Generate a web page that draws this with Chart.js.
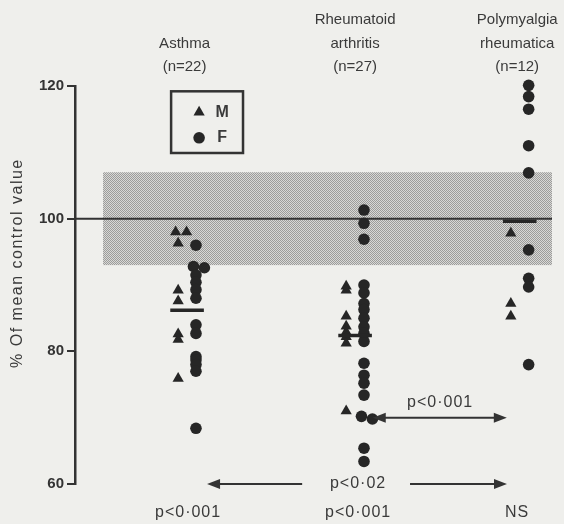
<!DOCTYPE html>
<html>
<head>
<meta charset="utf-8">
<script src="https://cdn.jsdelivr.net/npm/chart.js@4.4.0/dist/chart.umd.min.js"></script>
<style>
  html, body { margin: 0; padding: 0; background: #efefec; }
  canvas { display: block; }
</style>
</head>
<body>
<canvas id="c" width="564" height="524"></canvas>
<script>
// groups
const headerLines = [['Asthma', '(n=22)'], ['Rheumatoid', 'arthritis', '(n=27)'], ['Polymyalgia', 'rheumatica', '(n=12)']];
const groupPos = [1, 2, 2.98];

// % of mean control value, M = triangles, F = circles
const maleValues = [
  [98.0, 98.0, 96.3, 89.2, 87.6, 82.6, 81.8, 75.9],
  [89.8, 89.2, 85.3, 83.8, 82.9, 82.2, 81.2, 71.0],
  [97.8, 87.2, 85.3]
];
const femaleValues = [
  [96.0, 92.8, 92.6, 91.5, 90.4, 89.3, 88.0, 84.0, 82.7, 79.2, 78.7, 78.0, 77.0, 68.4],
  [101.3, 99.3, 96.9, 90.0, 88.8, 87.2, 86.3, 85.0, 83.7, 82.7, 81.5, 78.2, 76.4, 75.2, 73.4, 70.2, 69.8, 65.4, 63.4],
  [120.1, 118.4, 116.5, 111.0, 106.9, 95.3, 91.0, 89.7, 78.0]
];
const groupMeans = [86.2, 82.4, 99.6];
const normalRange = [93, 107];
const refValue = 100;
const yRange = [60, 120];

// comparisons
const bottomLabels = ['p<0·001', 'p<0·001', 'NS'];
const raVsPmr = 'p<0·001';
const asthmaVsRa = 'p<0·02';

const ink = '#262626';
const textCol = '#3a3a3a';
const sideOff = 0.053;

// spread near-identical values a little sideways
function column(values, center) {
  const pts = values.map(v => ({ x: center, y: v }));
  for (let i = 1; i < pts.length; i++) {
    if (Math.abs(pts[i].y - pts[i - 1].y) < 0.45 && pts[i - 1].x === center) {
      pts[i - 1].x = center - 0.015;
      pts[i].x = center + 0.05;
    }
  }
  return pts;
}

const datasets = [];
// reference line at 100
datasets.push({
  type: 'line', data: [{ x: 0.333, y: refValue }, { x: 3.172, y: refValue }],
  borderColor: '#333', borderWidth: 2, pointRadius: 0, order: 5
});
groupPos.forEach((gx, i) => {
  datasets.push({
    data: column(maleValues[i], gx - sideOff), pointStyle: 'triangle', pointRadius: 6.5,
    backgroundColor: ink, borderColor: ink, borderWidth: 0, clip: false, order: 2
  });
  datasets.push({
    data: column(femaleValues[i], gx + sideOff), pointStyle: 'circle', pointRadius: 5.8,
    backgroundColor: ink, borderColor: ink, borderWidth: 0, clip: false, order: 2
  });
  datasets.push({
    type: 'line', data: [{ x: gx - 0.1, y: groupMeans[i] }, { x: gx + 0.1, y: groupMeans[i] }],
    borderColor: ink, borderWidth: 3.5, pointRadius: 0, order: 1
  });
});

// stipple pattern for the normal range
function stipple(ctx) {
  const p = document.createElement('canvas');
  p.width = 2; p.height = 2;
  const g = p.getContext('2d');
  g.fillStyle = '#d8d8d6'; g.fillRect(0, 0, 2, 2);
  g.fillStyle = '#9c9c9a'; g.fillRect(0, 0, 1, 1); g.fillRect(1, 1, 1, 1);
  return ctx.createPattern(p, 'repeat');
}

function arrowHead(ctx, x, y, dir) {
  ctx.beginPath();
  ctx.moveTo(x, y);
  ctx.lineTo(x - dir * 13, y - 5);
  ctx.lineTo(x - dir * 13, y + 5);
  ctx.closePath();
  ctx.fill();
}

const decor = {
  id: 'decor',
  beforeDraw(chart) {
    const { ctx, width, height } = chart;
    ctx.save();
    ctx.fillStyle = '#efefec';
    ctx.fillRect(0, 0, width, height);
    ctx.restore();
  },
  beforeDatasetsDraw(chart) {
    const { ctx, scales: { x, y }, chartArea } = chart;
    ctx.save();
    ctx.fillStyle = stipple(ctx);
    const x0 = x.getPixelForValue(0.5);
    const yt = y.getPixelForValue(normalRange[1]);
    const yb = y.getPixelForValue(normalRange[0]);
    ctx.fillRect(x0, yt, chartArea.right - x0, yb - yt);
    ctx.restore();
  },
  afterDatasetsDraw(chart) {
    const { ctx, scales: { x, y }, chartArea } = chart;
    ctx.save();
    ctx.fillStyle = textCol;
    ctx.textAlign = 'center';
    ctx.textBaseline = 'middle';

    // group headers
    ctx.font = '15px "Liberation Sans", Arial, sans-serif';
    const hx = [0.985, 2.0, 2.965];
    headerLines.forEach((lines, i) => {
      lines.forEach((t, j) => {
        const fromBottom = lines.length - 1 - j;
        ctx.fillText(t, x.getPixelForValue(hx[i]), chartArea.top - 19 - fromBottom * 23.5);
      });
    });

    // legend box
    const lx0 = x.getPixelForValue(0.905), lx1 = x.getPixelForValue(1.333);
    const ly0 = y.getPixelForValue(119.2), ly1 = y.getPixelForValue(109.9);
    ctx.strokeStyle = '#333';
    ctx.lineWidth = 2.5;
    ctx.strokeRect(lx0, ly0, lx1 - lx0, ly1 - ly0);
    const mx = lx0 + 28, tx = lx0 + 51;
    const r1 = ly0 + 21, r2 = ly0 + 46.5;
    ctx.fillStyle = ink;
    ctx.beginPath();
    ctx.moveTo(mx, r1 - 6.5);
    ctx.lineTo(mx + 5.6, r1 + 3.2);
    ctx.lineTo(mx - 5.6, r1 + 3.2);
    ctx.closePath();
    ctx.fill();
    ctx.beginPath();
    ctx.arc(mx, r2, 5.8, 0, Math.PI * 2);
    ctx.fill();
    ctx.fillStyle = textCol;
    ctx.font = 'bold 16px "Liberation Sans", Arial, sans-serif';
    ctx.fillText('M', tx, r1);
    ctx.fillText('F', tx, r2);

    // comparison arrows
    ctx.strokeStyle = '#333';
    ctx.fillStyle = '#333';
    ctx.lineWidth = 2;
    const ay = y.getPixelForValue(70);
    const a1 = x.getPixelForValue(2.105), a2 = x.getPixelForValue(2.903);
    ctx.beginPath(); ctx.moveTo(a1 + 6, ay); ctx.lineTo(a2 - 6, ay); ctx.stroke();
    arrowHead(ctx, a1, ay, -1);
    arrowHead(ctx, a2, ay, 1);

    const by = y.getPixelForValue(60);
    const l1 = x.getPixelForValue(1.119), l2 = x.getPixelForValue(1.685);
    ctx.beginPath(); ctx.moveTo(l1 + 6, by); ctx.lineTo(l2, by); ctx.stroke();
    arrowHead(ctx, l1, by, -1);
    const r1x = x.getPixelForValue(2.327), r2x = x.getPixelForValue(2.904);
    ctx.beginPath(); ctx.moveTo(r1x, by); ctx.lineTo(r2x - 6, by); ctx.stroke();
    arrowHead(ctx, r2x, by, 1);

    // p values
    ctx.fillStyle = textCol;
    ctx.font = '16px "Liberation Sans", Arial, sans-serif';
    ctx.letterSpacing = '1px';
    ctx.fillText(raVsPmr, x.getPixelForValue(2.506), y.getPixelForValue(72.3));
    ctx.fillText(asthmaVsRa, x.getPixelForValue(2.018), by);
    const px = [1.006, 2.018, 2.964];
    bottomLabels.forEach((t, i) => ctx.fillText(t, x.getPixelForValue(px[i]), by + 29));

    // y axis title
    ctx.font = '16px "Liberation Sans", Arial, sans-serif';
    ctx.letterSpacing = '1.5px';
    ctx.translate(18, y.getPixelForValue(93.3));
    ctx.rotate(-Math.PI / 2);
    ctx.fillText('% Of mean control value', 0, 0);
    ctx.restore();
  }
};

new Chart(document.getElementById('c'), {
  type: 'scatter',
  data: { datasets },
  options: {
    responsive: false,
    animation: false,
    layout: { padding: { top: 86, right: 12, bottom: 40, left: 0 } },
    plugins: { legend: { display: false }, tooltip: { enabled: false } },
    scales: {
      x: { type: 'linear', min: 0.333, max: 3.172, display: false },
      y: {
        min: yRange[0], max: yRange[1],
        afterFit(s) { s.width = 75; },
        ticks: {
          stepSize: 20, padding: 3, color: '#333',
          font: { family: '"Liberation Sans", Arial, sans-serif', size: 15, weight: 'bold' }
        },
        grid: { drawOnChartArea: false, drawTicks: true, tickLength: 8, color: '#333', lineWidth: 2 },
        border: { display: true, color: '#333', width: 2.5 }
      }
    }
  },
  plugins: [decor]
});
</script>
</body>
</html>
